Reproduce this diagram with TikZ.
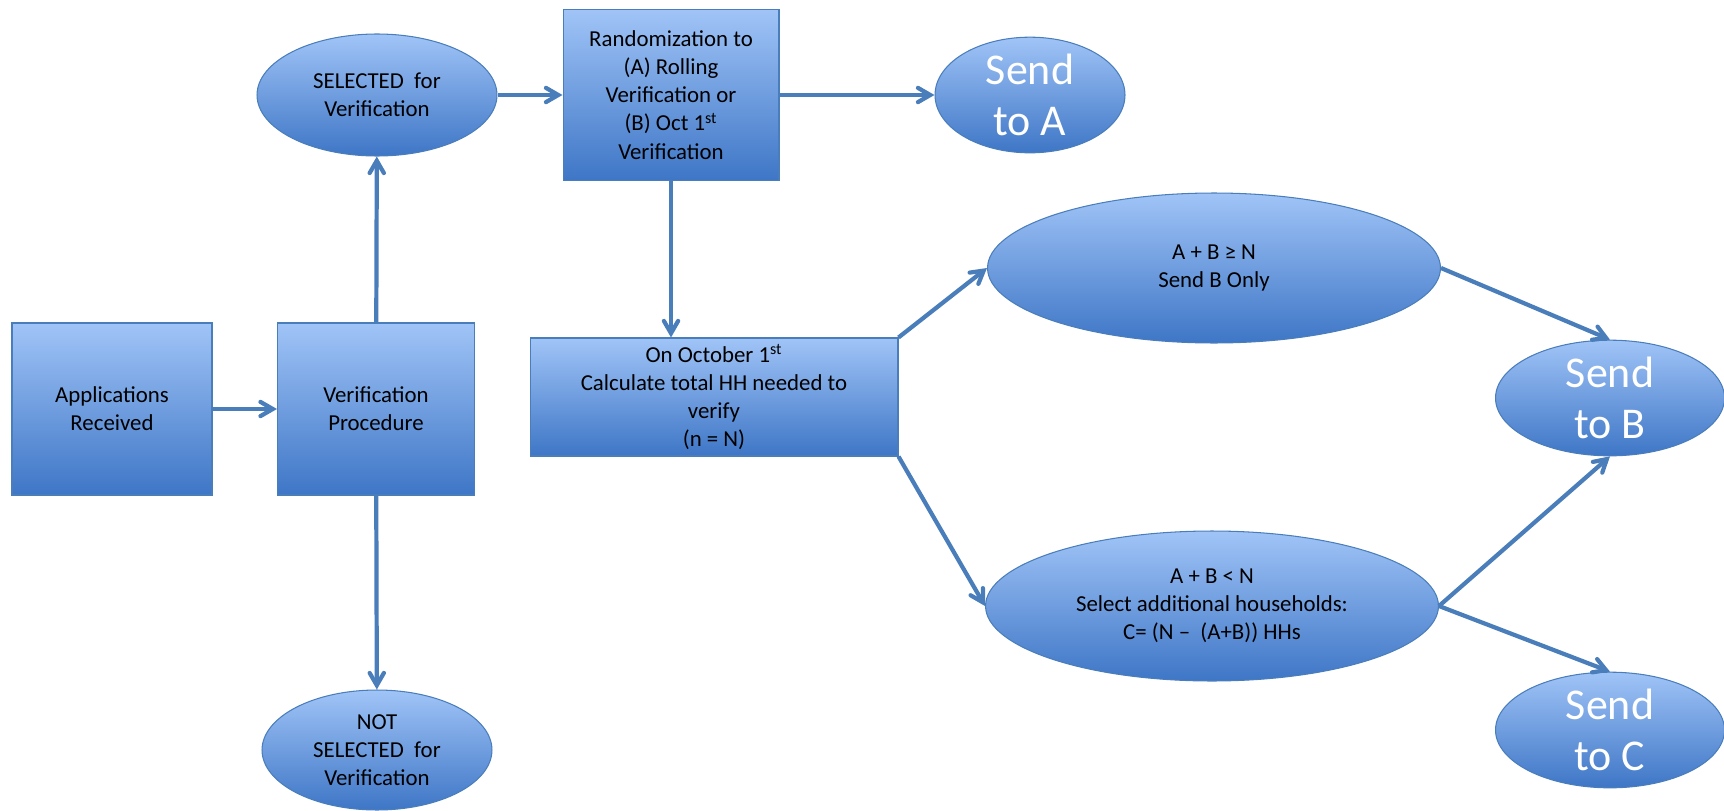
\documentclass[tikz,border=0pt]{standalone}
\usepackage{fontspec}
\setmainfont{Carlito}
\usetikzlibrary{arrows,shapes.geometric}
\definecolor{L}{RGB}{160,196,247}
\definecolor{D}{RGB}{62,118,198}
\definecolor{F}{RGB}{74,126,187}

\tikzset{
  caja/.style={draw=F, line width=0.6pt, top color=L, bottom color=D, align=center, inner sep=2pt, font=\fontsize{13}{16}\selectfont},
  elipse/.style={ellipse, draw=F, line width=0.6pt, top color=L, bottom color=D, align=center, inner sep=0pt, font=\fontsize{13}{16}\selectfont},
  envio/.style={elipse, text=white, font=\fontsize{25}{29}\selectfont},
  flecha/.style={draw=F, line width=2.4pt, -angle 60},
}

\begin{document}
\begin{tikzpicture}[x=0.02cm,y=-0.02cm]
  \useasboundingbox (0,0) rectangle (1724,811);

  %Cajas de entrada
  \node[caja, minimum width=4cm, minimum height=3.44cm] (app) at (112,409) {Applications\\Received};
  \node[caja, minimum width=3.94cm, minimum height=3.44cm] (ver) at (376,409) {Verification\\Procedure};

  %Seleccionados y no seleccionados
  \node[elipse, minimum width=4.8cm, minimum height=2.44cm] (sel) at (377,95) {SELECTED\ \ for\\Verification};
  \node[elipse, minimum width=4.6cm, minimum height=2.4cm] (notsel) at (377,750) {NOT\\SELECTED\ \ for\\Verification};

  %Aleatorizacion
  \node[caja, minimum width=4.32cm, minimum height=3.42cm] (rand) at (671,95) {Randomization to\\(A) Rolling\\Verification or\\(B) Oct 1\textsuperscript{st}\\Verification};
  \node[envio, minimum width=3.8cm, minimum height=2.1cm] (senda) at (1030,95) {Send\\to A};

  %Calculo del 1 de octubre
  \node[caja, minimum width=7.36cm, minimum height=2.36cm] (oct) at (714,397) {On October 1\textsuperscript{st}\\Calculate total HH needed to\\verify\\(n = N)};

  %Los dos casos
  \node[elipse, minimum width=9.06cm, minimum height=3cm] (mayor) at (1214,268) {A + B ≥ N\\Send B Only};
  \node[elipse, minimum width=9.06cm, minimum height=3cm] (menor) at (1212,606) {A + B < N\\Select additional households:\\C= (N –\ \ (A+B)) HHs};

  %Envios finales
  \node[envio, minimum width=4.58cm, minimum height=2.14cm] (sendb) at (1610,398) {Send\\to B};
  \node[envio, minimum width=4.58cm, minimum height=2.14cm] (sendc) at (1610,730) {Send\\to C};

  %Flechas
  \draw[flecha] (app) -- (ver);
  \draw[flecha] (ver) -- (sel);
  \draw[flecha] (ver) -- (notsel);
  \draw[flecha] (sel) -- (rand);
  \draw[flecha] (rand) -- (senda);
  \draw[flecha] (rand.south) -- (rand.south |- oct.north);
  \draw[flecha] (oct.north east) -- (mayor.west);
  \draw[flecha] (oct.south east) -- (menor.west);
  \draw[flecha] (mayor.east) -- (sendb.north);
  \draw[flecha] (menor.east) -- (sendb.south);
  \draw[flecha] (menor.east) -- (sendc.north);
\end{tikzpicture}
\end{document}
